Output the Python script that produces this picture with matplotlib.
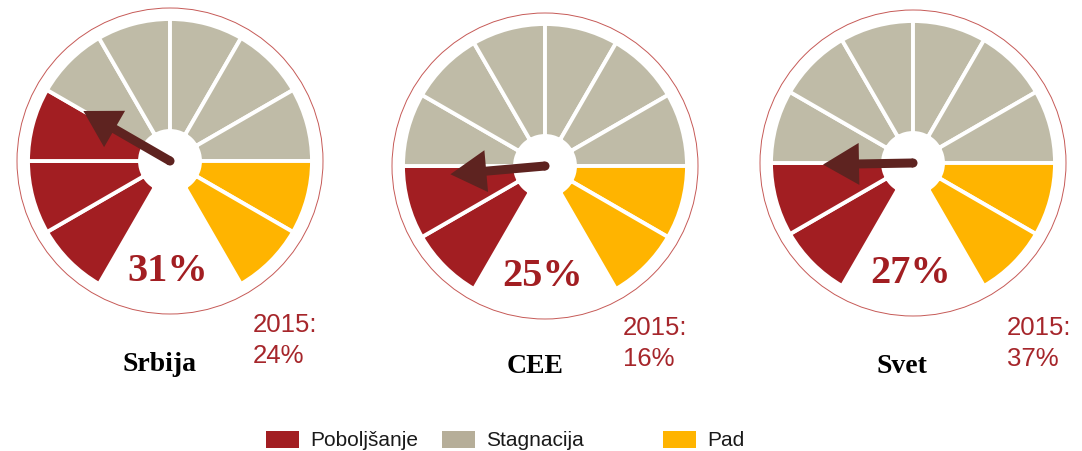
import matplotlib
matplotlib.use("Agg")
import matplotlib.pyplot as plt
import numpy as np
from matplotlib.patches import Wedge, Circle, FancyArrow, Rectangle

# gauge data
regions = ['Srbija', 'CEE', 'Svet']
pct_now = [31, 25, 27]
pct_2015 = [24, 16, 37]
needle_deg = [150, 185, 181]          # pointer direction, degrees ccw from east
n_improve = [3, 2, 2]                 # red slots
n_stagn = [5, 6, 6]                   # gray slots
n_fall = [2, 2, 2]                    # yellow slots
legend_labels = ['Poboljšanje', 'Stagnacija', 'Pad']

red = '#A21E22'
gray = '#BFBBA7'
yellow = '#FFB400'
needle_col = '#5E2320'
txt_red = '#A6262B'

# layout (pixels)
centers = [(170, 161), (545, 166), (913, 163)]
r_out, r_in, r_ring = 142, 30, 153
needle_len = [100, 95, 90]

fig = plt.figure(figsize=(10.82, 4.51), dpi=100)
ax = fig.add_axes([0, 0, 1, 1])
ax.set_xlim(0, 1082)
ax.set_ylim(451, 0)
ax.axis('off')

for i, (cx, cy) in enumerate(centers):
    # outer thin ring
    ax.add_patch(Circle((cx, cy), r_ring, fill=False, ec='#C65A57', lw=0.7))
    cols = [red] * n_improve[i] + [gray] * n_stagn[i] + [yellow] * n_fall[i]
    # slots run clockwise from 240 deg; y axis is inverted so flip angles
    for k, c in enumerate(cols):
        a_hi = 240 - 30 * k
        a_lo = a_hi - 30
        ax.add_patch(Wedge((cx, cy), r_out, -a_hi, -a_lo, width=r_out - r_in,
                           fc=c, ec='white', lw=2.8))
    # needle
    t = np.deg2rad(needle_deg[i])
    dx = needle_len[i] * np.cos(t)
    dy = -needle_len[i] * np.sin(t)
    ax.add_patch(FancyArrow(cx, cy, dx, dy, width=9, head_width=42, head_length=36,
                            length_includes_head=True, fc=needle_col, ec='none'))
    ax.add_patch(Circle((cx, cy), 4.5, fc=needle_col, ec='none'))
    # big percentage
    ax.text(cx - 2, cy + 120, f'{pct_now[i]}%', ha='center', va='baseline',
            fontsize=29, fontweight='bold', family='Liberation Serif', color=red)

# region names
name_x = [159, 535, 902]
name_y = [371, 373, 373]
for x, y, s in zip(name_x, name_y, regions):
    ax.text(x, y, s, ha='center', va='baseline', fontsize=20, fontweight='bold',
            family='Liberation Serif', color='black')

# 2015 reference values
ref_x = [253, 623, 1007]
ref_y = [332, 335, 335]
for x, y, v in zip(ref_x, ref_y, pct_2015):
    ax.text(x, y, '2015:', ha='left', va='baseline', fontsize=18.5,
            family='Liberation Sans', color=txt_red)
    ax.text(x, y + 31, f'{v}%', ha='left', va='baseline', fontsize=18.5,
            family='Liberation Sans', color=txt_red)

# legend
box_x = [266, 442, 663]
box_cols = [red, '#B6AE99', yellow]
for x, c, lab in zip(box_x, box_cols, legend_labels):
    ax.add_patch(Rectangle((x, 431), 33, 17, fc=c, ec='none'))
    ax.text(x + 44, 446, lab, ha='left', va='baseline', fontsize=15,
            family='Liberation Sans', color='#1a1a1a')

fig.savefig('out.png', dpi=100)
